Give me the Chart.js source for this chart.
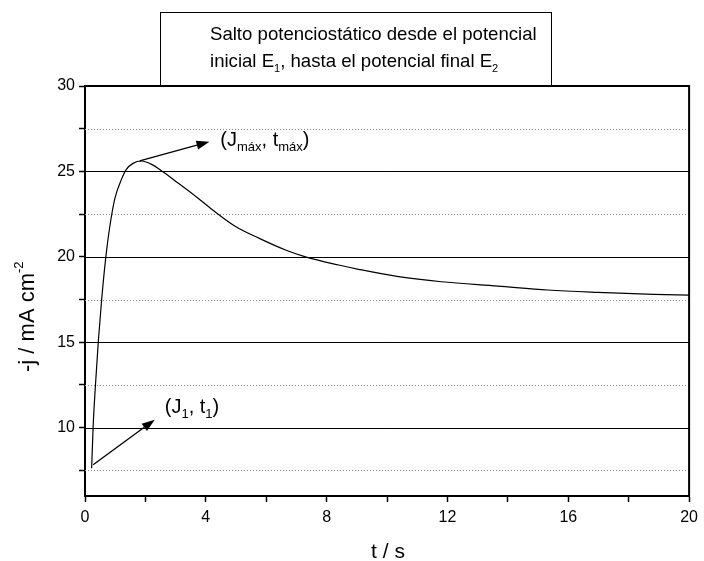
<!DOCTYPE html>
<html>
<head>
<meta charset="utf-8">
<script src="https://cdn.jsdelivr.net/npm/chart.js@4/dist/chart.umd.min.js"></script>
<style>
html, body { margin: 0; padding: 0; background: #fff; }
</style>
</head>
<body>
<canvas id="grafico" width="704" height="561"></canvas>
<script>
// datos del transitorio (t en s, -j en mA cm-2)
const tiempos = [0.22, 0.27, 0.35, 0.44, 0.55, 0.69, 0.82, 0.99, 1.21, 1.37, 1.59, 1.87, 2.25, 2.58, 3.02, 3.68, 4.23, 5.00, 5.77, 6.64, 7.30, 8.40, 9.06, 10.38, 11.80, 13.67, 15.32, 16.97, 18.84, 20.00];
const corriente = [7.62, 10.08, 12.60, 15.03, 17.47, 20.00, 21.76, 23.42, 24.55, 25.12, 25.47, 25.61, 25.37, 24.98, 24.40, 23.52, 22.74, 21.76, 21.08, 20.40, 20.00, 19.52, 19.27, 18.84, 18.54, 18.29, 18.06, 17.92, 17.80, 17.76];

const ticksX = [0, 2, 4, 6, 8, 10, 12, 14, 16, 18, 20];
const ticksY = [7.5, 10, 12.5, 15, 17.5, 20, 22.5, 25, 27.5, 30];

// flechas y etiquetas en unidades de datos
const flechaInicial = [[0.27, 7.83], [2.31, 10.47]];
const flechaMaximo = [[1.81, 25.61], [4.12, 26.74]];
const etiquetaInicial = [2.64, 10.86];
const etiquetaMaximo = [4.48, 26.5];

const puntos = tiempos.map((t, i) => ({ x: t, y: corriente[i] }));

const fuente = '"Liberation Sans", Arial, sans-serif';

function textoConSub(ctx, partes, x, y, tam, tamSub, bajada) {
  // partes: [texto, esSubindice]
  partes.forEach(p => {
    ctx.font = (p[1] ? tamSub : tam) + 'px ' + fuente;
    ctx.fillText(p[0], x, p[1] ? y + bajada : y);
    x += ctx.measureText(p[0]).width;
  });
  return x;
}

function flecha(ctx, x1, y1, x2, y2) {
  const ang = Math.atan2(y2 - y1, x2 - x1);
  const largo = 13, ancho = 4.5;
  ctx.beginPath();
  ctx.moveTo(x1, y1);
  ctx.lineTo(x2 - largo * Math.cos(ang), y2 - largo * Math.sin(ang));
  ctx.lineWidth = 1.3;
  ctx.strokeStyle = '#000';
  ctx.stroke();
  ctx.beginPath();
  ctx.moveTo(x2, y2);
  ctx.lineTo(x2 - largo * Math.cos(ang) + ancho * Math.sin(ang), y2 - largo * Math.sin(ang) - ancho * Math.cos(ang));
  ctx.lineTo(x2 - largo * Math.cos(ang) - ancho * Math.sin(ang), y2 - largo * Math.sin(ang) + ancho * Math.cos(ang));
  ctx.closePath();
  ctx.fillStyle = '#000';
  ctx.fill();
}

const decorado = {
  id: 'decorado',
  beforeDatasetsDraw(chart) {
    const ctx = chart.ctx;
    const a = chart.chartArea;
    const ey = chart.scales.y;
    ctx.save();
    ticksY.forEach(v => {
      if (v >= 30) return;
      const y = Math.round(ey.getPixelForValue(v)) + 0.5;
      ctx.beginPath();
      if (v % 5 === 0) {
        ctx.setLineDash([]);
        ctx.strokeStyle = '#000';
      } else {
        ctx.setLineDash([1, 2]);
        ctx.strokeStyle = '#888';
      }
      ctx.lineWidth = 1;
      ctx.moveTo(a.left, y);
      ctx.lineTo(a.right, y);
      ctx.stroke();
    });
    ctx.restore();
  },
  afterDatasetsDraw(chart) {
    const ctx = chart.ctx;
    const a = chart.chartArea;
    const ex = chart.scales.x, ey = chart.scales.y;
    ctx.save();
    // marco superior y derecho
    ctx.strokeStyle = '#000';
    ctx.lineWidth = 2;
    ctx.beginPath();
    ctx.moveTo(a.left, a.top);
    ctx.lineTo(a.right, a.top);
    ctx.lineTo(a.right, a.bottom);
    ctx.stroke();

    const px = p => [ex.getPixelForValue(p[0]), ey.getPixelForValue(p[1])];
    let p1 = px(flechaInicial[0]), p2 = px(flechaInicial[1]);
    flecha(ctx, p1[0], p1[1], p2[0], p2[1]);
    p1 = px(flechaMaximo[0]); p2 = px(flechaMaximo[1]);
    flecha(ctx, p1[0], p1[1], p2[0], p2[1]);

    ctx.fillStyle = '#000';
    ctx.textBaseline = 'alphabetic';
    ctx.textAlign = 'left';
    let e = px(etiquetaInicial);
    textoConSub(ctx, [['(J', 0], ['1', 1], [', t', 0], ['1', 1], [')', 0]], e[0], e[1], 20, 13, 5);
    e = px(etiquetaMaximo);
    textoConSub(ctx, [['(J', 0], ['máx', 1], [', t', 0], ['máx', 1], [')', 0]], e[0], e[1], 20, 13, 5);

    // recuadro del título
    ctx.fillStyle = '#fff';
    ctx.fillRect(160.5, 12.5, 391, 73);
    ctx.lineWidth = 1;
    ctx.strokeRect(160.5, 12.5, 391, 73);
    ctx.fillStyle = '#000';
    textoConSub(ctx, [['Salto potenciostático desde el potencial', 0]], 210, 39.5, 18.6, 11, 5);
    textoConSub(ctx, [['inicial E', 0], ['1', 1], [', hasta el potencial final E', 0], ['2', 1]], 210, 67, 18.6, 11, 5);

    // títulos de los ejes
    ctx.textAlign = 'center';
    ctx.font = '21px ' + fuente;
    ctx.fillText('t / s', 388, 558);

    ctx.translate(33.5, 372);
    ctx.rotate(-Math.PI / 2);
    ctx.textAlign = 'left';
    let x = textoConSub(ctx, [['-j / mA cm', 0]], 0, 0, 22, 13, 0);
    ctx.font = '13px ' + fuente;
    ctx.fillText('-2', x, -11);
    ctx.restore();
  }
};

new Chart(document.getElementById('grafico'), {
  type: 'scatter',
  data: {
    datasets: [{
      data: puntos,
      showLine: true,
      borderColor: '#000',
      borderWidth: 1.2,
      pointRadius: 0,
      cubicInterpolationMode: 'monotone',
      fill: false
    }]
  },
  options: {
    responsive: false,
    animation: false,
    devicePixelRatio: 1,
    layout: { padding: { top: 86, right: 12, left: 0, bottom: 0 } },
    plugins: { legend: { display: false }, tooltip: { enabled: false } },
    scales: {
      x: {
        type: 'linear',
        min: 0,
        max: 20,
        afterBuildTicks: s => { s.ticks = ticksX.map(v => ({ value: v })); },
        afterFit: s => { s.height = 65; },
        ticks: {
          autoSkip: false,
          maxRotation: 0,
          padding: 6,
          color: '#000',
          font: { family: fuente, size: 16 },
          callback: v => (v % 4 === 0 ? v : '')
        },
        grid: { drawOnChartArea: false, drawTicks: true, tickLength: 6, tickColor: '#000', tickWidth: 1.5 },
        border: { display: true, color: '#000', width: 2 }
      },
      y: {
        type: 'linear',
        min: 6,
        max: 30,
        afterBuildTicks: s => { s.ticks = ticksY.map(v => ({ value: v })); },
        afterFit: s => { s.width = 85; },
        ticks: {
          autoSkip: false,
          padding: 4,
          color: '#000',
          font: { family: fuente, size: 16 },
          callback: v => (v % 5 === 0 ? v : '')
        },
        grid: { drawOnChartArea: false, drawTicks: true, tickLength: 6, tickColor: '#000', tickWidth: 1.5 },
        border: { display: true, color: '#000', width: 2 }
      }
    }
  },
  plugins: [decorado]
});
</script>
</body>
</html>
